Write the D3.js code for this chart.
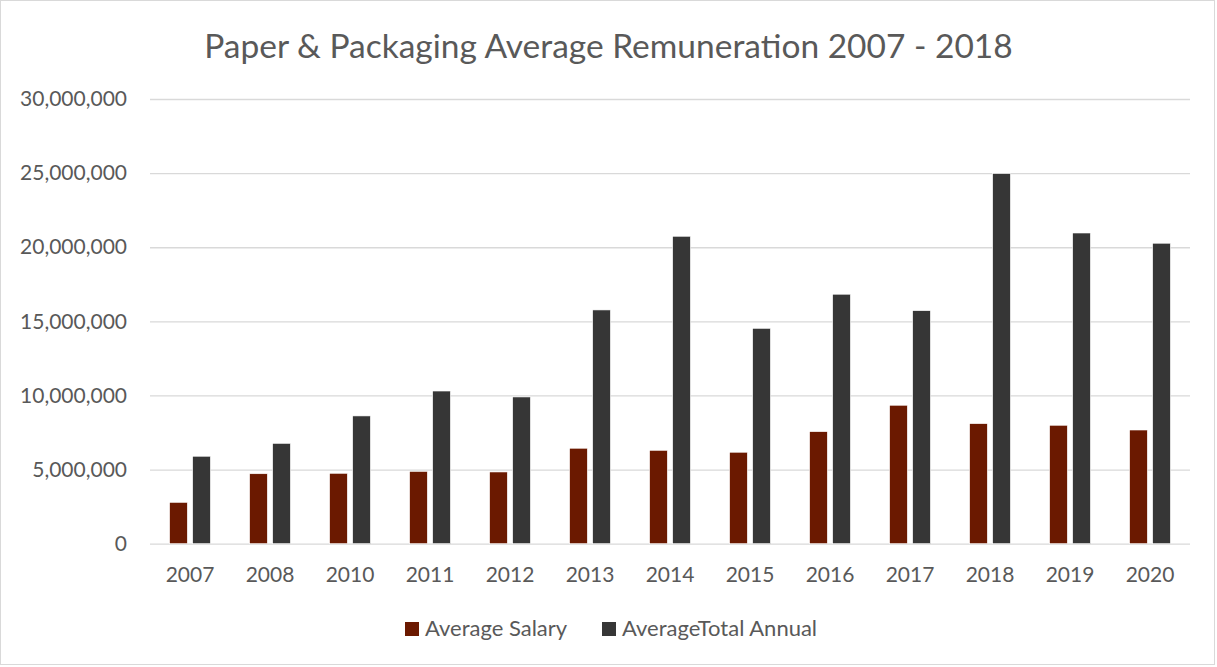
<!DOCTYPE html>
<html>
<head>
<meta charset="utf-8">
<script src="https://cdn.jsdelivr.net/npm/d3@7"></script>
<style>
  html, body { margin: 0; padding: 0; background: #fff; }
  svg { display: block; }
  text { font-family: Lato, "Open Sans", sans-serif; fill: #595959; }
</style>
</head>
<body>
<svg id="chart" width="1217" height="667"></svg>
<script>
// Data
const years = ["2007", "2008", "2010", "2011", "2012", "2013", "2014", "2015", "2016", "2017", "2018", "2019", "2020"];
const averageSalary = [2790000, 4720000, 4750000, 4880000, 4840000, 6440000, 6300000, 6170000, 7560000, 9340000, 8100000, 7990000, 7670000];
const averageTotalAnnual = [5900000, 6770000, 8620000, 10300000, 9900000, 15770000, 20740000, 14530000, 16830000, 15720000, 24970000, 20960000, 20270000];
const seriesNames = ["Average Salary", "AverageTotal Annual"];
const seriesColors = ["#6b1900", "#363636"];
const yTicks = [0, 5000000, 10000000, 15000000, 20000000, 25000000, 30000000];
const chartTitle = "Paper & Packaging Average Remuneration 2007 - 2018";

const W = 1217, H = 667;
const plot = { left: 150, right: 1190, top: 99, bottom: 543.7 };

const svg = d3.select("#chart");

// Outer chart frame
svg.append("rect")
  .attr("x", 0.5).attr("y", 0.5)
  .attr("width", W - 3).attr("height", H - 3)
  .attr("fill", "#fff").attr("stroke", "#d9d9d9").attr("stroke-width", 1);

// Scales
const x = d3.scaleBand().domain(years).range([plot.left, plot.right]).paddingInner(0).paddingOuter(0);
const groupW = x.bandwidth() * 0.51;
const x1 = d3.scaleBand().domain(seriesNames).range([-groupW / 2, groupW / 2]).paddingInner(0.23).paddingOuter(0);
const y = d3.scaleLinear().domain([0, 30000000]).range([plot.bottom, plot.top]);
const color = d3.scaleOrdinal().domain(seriesNames).range(seriesColors);

// Y axis with gridlines
const yAxis = svg.append("g")
  .attr("transform", `translate(${plot.left},0)`)
  .call(d3.axisLeft(y).tickValues(yTicks).tickFormat(d3.format(",")).tickSize(-(plot.right - plot.left)).tickPadding(23));
yAxis.select(".domain").remove();
yAxis.selectAll(".tick line").attr("stroke", "#d9d9d9").attr("stroke-width", 1.3);
yAxis.selectAll(".tick text").attr("font-size", 21).attr("fill", "#595959");

// X axis labels
const xAxis = svg.append("g")
  .attr("transform", `translate(0,${plot.bottom})`)
  .call(d3.axisBottom(x).tickSize(0).tickPadding(23));
xAxis.select(".domain").remove();
xAxis.selectAll(".tick text").attr("font-size", 21).attr("fill", "#595959");

// Bars
const rows = years.map((yr, i) => ({ year: yr, values: [
  { name: seriesNames[0], value: averageSalary[i] },
  { name: seriesNames[1], value: averageTotalAnnual[i] }
]}));

const groups = svg.append("g").selectAll("g")
  .data(rows).join("g")
  .attr("transform", d => `translate(${x(d.year) + x.bandwidth() / 2},0)`);

groups.selectAll("rect")
  .data(d => d.values).join("rect")
  .attr("x", d => x1(d.name))
  .attr("width", x1.bandwidth())
  .attr("y", d => y(d.value))
  .attr("height", d => y(0) - y(d.value))
  .attr("fill", d => color(d.name))
  .attr("stroke", "#ffffff")
  .attr("stroke-width", 0.6);

// Title
svg.append("text")
  .attr("x", W / 2).attr("y", 58)
  .attr("text-anchor", "middle")
  .attr("font-size", 33.5)
  .attr("font-weight", 400)
  .text(chartTitle);

// Legend
const legendItems = [
  { name: seriesNames[0], x: 405 },
  { name: seriesNames[1], x: 602 }
];
const legend = svg.append("g");
legendItems.forEach(item => {
  legend.append("rect")
    .attr("x", item.x).attr("y", 622)
    .attr("width", 14).attr("height", 14)
    .attr("fill", color(item.name));
  legend.append("text")
    .attr("x", item.x + 20).attr("y", 636)
    .attr("font-size", 22)
    .text(item.name);
});
</script>
</body>
</html>
